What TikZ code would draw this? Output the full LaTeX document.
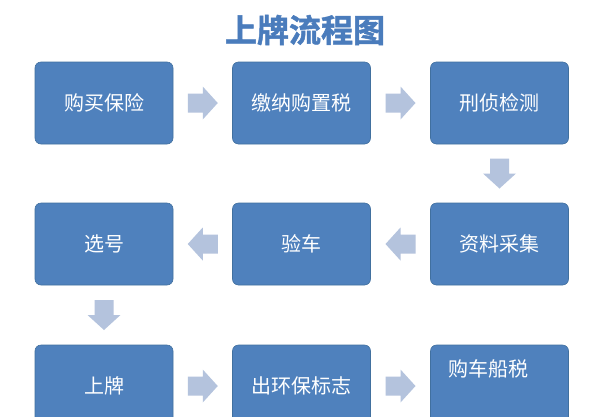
\documentclass[tikz,border=0pt]{standalone}
\usepackage{fontspec}
\setmainfont{Noto Sans CJK SC}[BoldFont={Noto Sans CJK SC Bold}]
\newfontfamily\titlefont{Noto Sans CJK SC Bold}[FakeBold=1.5]
\usetikzlibrary{calc}
\definecolor{boxblue}{HTML}{4F81BD}
\definecolor{boxedge}{HTML}{41709F}
\definecolor{arrowgrey}{HTML}{B4C3DD}
\definecolor{titleblue}{HTML}{4A7CBC}
\tikzset{
  stepbox/.style={draw=boxedge, line width=0.6pt, fill=boxblue, rounded corners=6pt,
    minimum width=138pt, minimum height=82pt, inner sep=0pt,
    text=white, font=\fontsize{20}{22}\selectfont},
  blockarrow/.style={fill=arrowgrey, draw=none},
}
% block arrow centred on a named coordinate, turned by an angle
\newcommand\myblockarrow[2]{%
  \fill[blockarrow, shift={(#1)}, rotate=#2]
    (-15,-9.5) -- (0,-9.5) -- (0,-16.5) -- (15,0) -- (0,16.5) -- (0,9.5) -- (-15,9.5) -- cycle;}
\begin{document}
\begin{tikzpicture}[x=1pt,y=-1pt]
\useasboundingbox (0,0) rectangle (600,416);
\clip (0,0) rectangle (600,416);
\fill[white] (0,0) rectangle (600,416);
\node[font=\titlefont\fontsize{32}{34}\selectfont, text=titleblue] (title) at (305,30) {上牌流程图};
% row 1
\node[stepbox] (b1) at (104,103) {购买保险};
\node[stepbox] (b2) at (301.5,103) {缴纳购置税};
\node[stepbox] (b3) at (499.5,103) {刑侦检测};
% row 2
\node[stepbox] (b4) at (499.5,244) {资料采集};
\node[stepbox] (b5) at (301.5,244) {验车};
\node[stepbox] (b6) at (104,244) {选号};
% row 3
\node[stepbox] (b7) at (104,386) {上牌};
\node[stepbox] (b8) at (301.5,386) {出环保标志};
\node[stepbox] (b9) at (499.5,386) {};
\node[text=white, font=\fontsize{20}{22}\selectfont] (b9t) at (488,369) {购车船税};
% arrows between boxes
\coordinate (a12) at ($(b1.east)!0.5!(b2.west)$);
\coordinate (a23) at ($(b2.east)!0.5!(b3.west)$);
\coordinate (a34) at ($(b3.south)!0.5!(b4.north)$);
\coordinate (a45) at ($(b4.west)!0.5!(b5.east)$);
\coordinate (a56) at ($(b5.west)!0.5!(b6.east)$);
\coordinate (a67) at ($(b6.south)!0.5!(b7.north)$);
\coordinate (a78) at ($(b7.east)!0.5!(b8.west)$);
\coordinate (a89) at ($(b8.east)!0.5!(b9.west)$);
\myblockarrow{a12}{0}
\myblockarrow{a23}{0}
\myblockarrow{a34}{-90}
\myblockarrow{a45}{180}
\myblockarrow{a56}{180}
\myblockarrow{a67}{-90}
\myblockarrow{a78}{0}
\myblockarrow{a89}{0}
\end{tikzpicture}
\end{document}
